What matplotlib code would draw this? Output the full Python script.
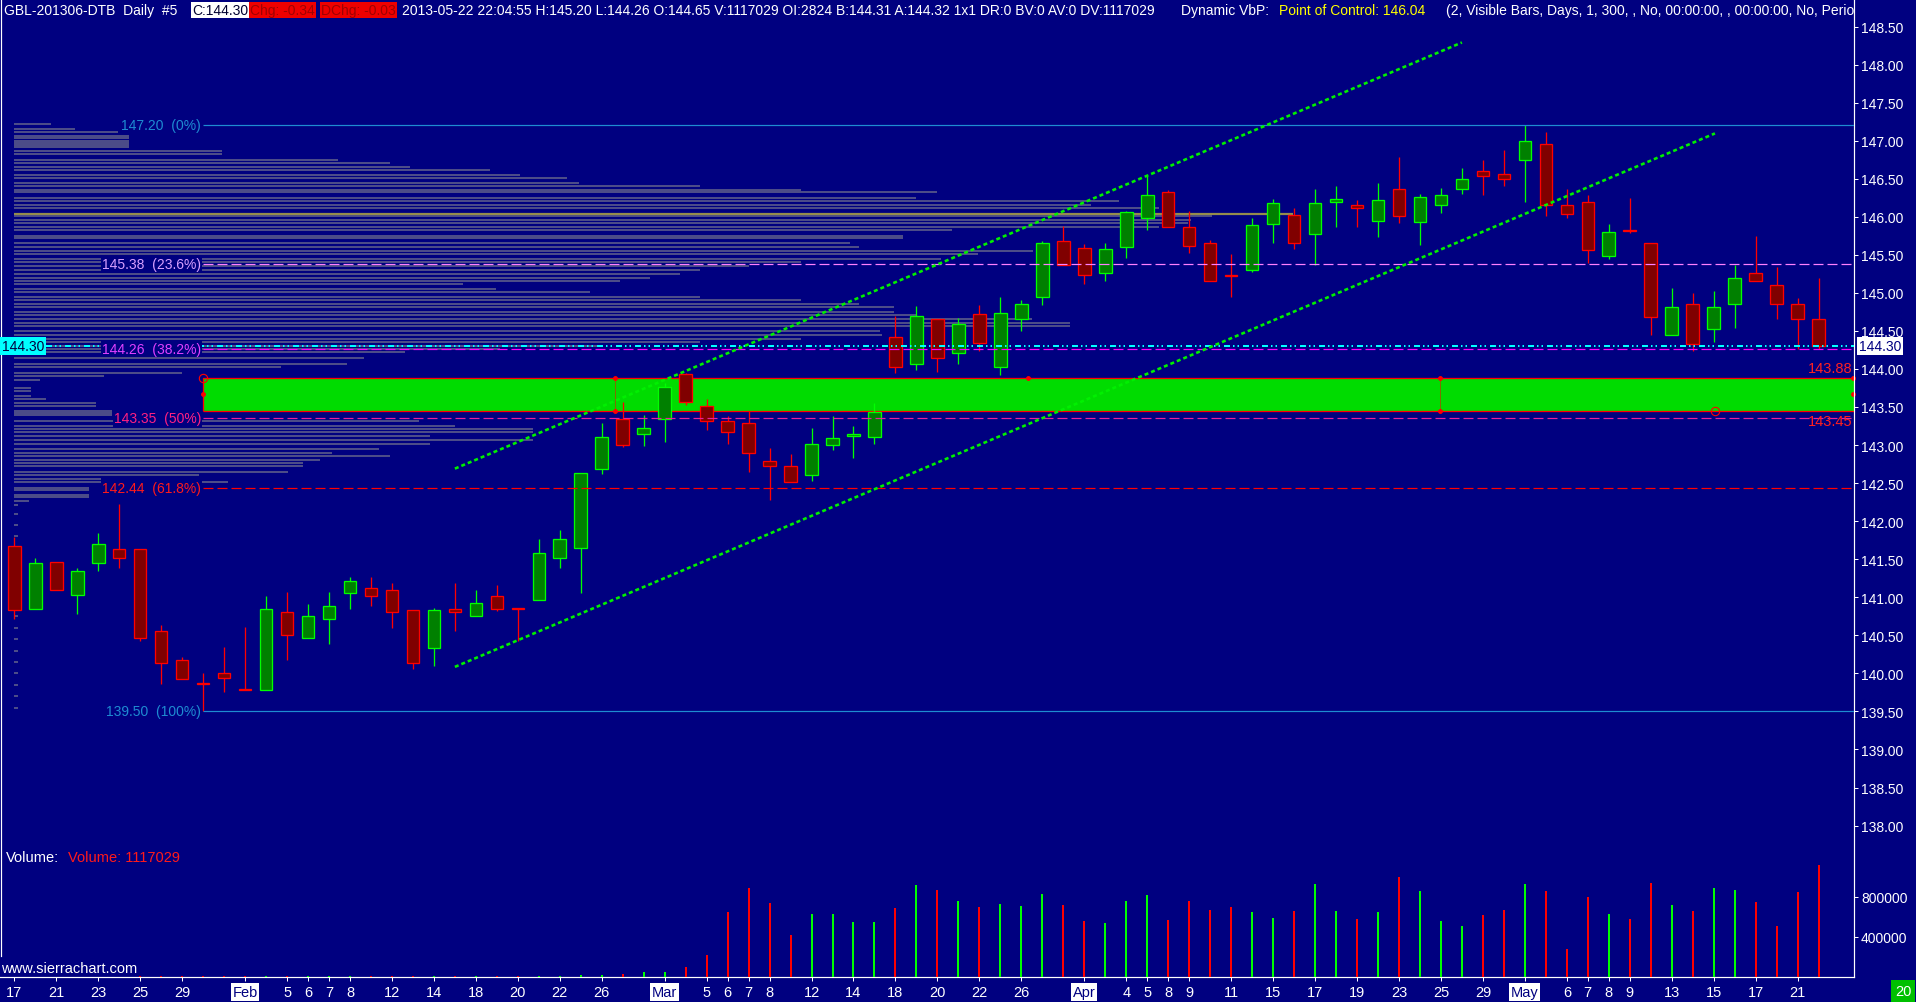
import numpy as np
import matplotlib
matplotlib.use("Agg")
import matplotlib.pyplot as plt
from matplotlib.lines import Line2D
from matplotlib.patches import Rectangle

plt.rcParams['font.family'] = ['Liberation Sans', 'DejaVu Sans']
plt.rcParams['lines.scale_dashes'] = False

# ---------------- data ----------------
opens = [141.68, 140.85, 141.46, 141.03, 141.45, 141.64, 141.63, 140.55, 140.17, 139.87,
         140.01, 139.80, 139.78, 140.80, 140.46, 140.71, 141.05, 141.12, 141.09, 140.83,
         140.33, 140.85, 140.75, 141.01, 140.86, 140.96, 141.51, 141.65, 142.68, 143.34,
         143.14, 143.34, 143.94, 143.51, 143.31, 143.29, 142.79, 142.72, 142.60, 143.00,
         143.12, 143.10, 144.42, 144.06, 144.65, 144.21, 144.72, 144.02, 144.65, 144.94,
         145.68, 145.59, 145.26, 145.60, 145.98, 146.32, 145.87, 145.65, 145.24, 145.30,
         145.90, 146.02, 145.77, 146.20, 146.15, 145.95, 146.36, 145.93, 146.16, 146.37,
         146.60, 146.56, 146.74, 146.95, 146.15, 146.19, 145.48, 145.82, 145.65, 144.44,
         144.85, 144.53, 144.85, 145.26, 145.10, 144.86, 144.65]
highs = [141.79, 141.52, 141.46, 141.39, 141.84, 142.23, 141.63, 140.64, 140.22, 140.00,
         140.35, 140.61, 141.02, 141.07, 140.91, 141.07, 141.26, 141.27, 141.19, 140.83,
         140.86, 141.19, 141.10, 141.16, 140.86, 141.77, 141.88, 142.63, 143.29, 143.56,
         143.40, 143.82, 143.95, 143.60, 143.38, 143.45, 142.96, 142.88, 143.22, 143.38,
         143.25, 143.55, 144.70, 144.83, 144.65, 144.67, 144.84, 144.95, 144.91, 145.68,
         145.88, 145.64, 145.66, 146.08, 146.53, 146.35, 146.07, 145.69, 145.51, 145.98,
         146.23, 146.11, 146.36, 146.40, 146.22, 146.44, 146.79, 146.30, 146.38, 146.64,
         146.75, 146.88, 147.20, 147.11, 146.36, 146.29, 145.90, 146.25, 145.66, 145.07,
         145.00, 145.02, 145.37, 145.75, 145.34, 144.93, 145.20]
lows = [140.71, 140.85, 141.09, 140.78, 141.34, 141.38, 140.42, 139.86, 139.92, 139.50,
        139.76, 139.78, 139.78, 140.18, 140.46, 140.39, 140.85, 140.88, 140.60, 140.06,
        140.10, 140.55, 140.75, 140.82, 140.43, 140.96, 141.39, 141.05, 142.62, 142.98,
        142.99, 143.04, 143.53, 143.20, 143.01, 142.65, 142.28, 142.51, 142.53, 142.94,
        142.83, 143.01, 143.95, 143.99, 143.96, 144.06, 144.23, 143.92, 144.50, 144.84,
        145.36, 145.12, 145.15, 145.46, 145.83, 145.86, 145.53, 145.15, 144.95, 145.28,
        145.65, 145.57, 145.37, 145.87, 145.87, 145.74, 145.92, 145.63, 146.05, 146.30,
        146.29, 146.41, 146.19, 146.01, 145.99, 145.39, 145.44, 145.78, 144.45, 144.44,
        144.24, 144.35, 144.54, 145.15, 144.66, 144.26, 144.26]
closes = [140.83, 141.45, 141.09, 141.34, 141.70, 141.52, 140.46, 140.13, 139.92, 139.86,
          139.94, 139.78, 140.84, 140.50, 140.75, 140.89, 141.22, 141.01, 140.80, 140.13,
          140.83, 140.80, 140.92, 140.84, 140.84, 141.58, 141.76, 142.63, 143.10, 143.00,
          143.22, 143.76, 143.56, 143.32, 143.17, 142.89, 142.72, 142.51, 143.02, 143.09,
          143.14, 143.44, 144.02, 144.69, 144.14, 144.59, 144.34, 144.73, 144.85, 145.65,
          145.36, 145.24, 145.57, 146.06, 146.29, 145.86, 145.62, 145.15, 145.22, 145.89,
          146.18, 145.65, 146.18, 146.23, 146.12, 146.22, 146.01, 146.26, 146.28, 146.50,
          146.53, 146.49, 146.99, 146.15, 146.04, 145.56, 145.80, 145.81, 144.68, 144.82,
          144.33, 144.81, 145.20, 145.15, 144.85, 144.65, 144.30]
volumes = [2000, 2000, 2000, 2000, 2000, 2000, 10000, 10000, 10000, 10000,
           10000, 10000, 10000, 10000, 10000, 10000, 10000, 10000, 10000, 10000,
           10000, 10000, 10000, 10000, 10000, 10000, 10000, 20000, 20000, 30000,
           50000, 50000, 100000, 220000, 650000, 890000, 740000, 420000, 630000, 630000,
           550000, 550000, 690000, 920000, 870000, 760000, 697000, 727000, 707000, 827000,
           717000, 557000, 537000, 757000, 817000, 567000, 757000, 667000, 697000, 647000,
           587000, 657000, 927000, 657000, 577000, 647000, 997000, 857000, 557000, 507000,
           617000, 667000, 927000, 857000, 277000, 797000, 627000, 577000, 937000, 717000,
           657000, 887000, 867000, 747000, 507000, 847000, 1117029]

tick_idx = [0, 2, 4, 6, 8, 11, 13, 14, 15, 16, 18, 20, 22, 24, 26, 28, 31, 33, 34, 35,
            36, 38, 40, 42, 44, 46, 48, 51, 53, 54, 55, 56, 58, 60, 62, 64, 66, 68, 70,
            72, 74, 75, 76, 77, 79, 81, 83, 85]
tick_text = ['17', '21', '23', '25', '29', 'Feb', '5', '6', '7', '8', '12', '14', '18',
             '20', '22', '26', 'Mar', '5', '6', '7', '8', '12', '14', '18', '20', '22',
             '26', 'Apr', '4', '5', '8', '9', '11', '15', '17', '19', '23', '25', '29',
             'May', '6', '7', '8', '9', '13', '15', '17', '21']
months = ['Feb', 'Mar', 'Apr', 'May']

price_ticks = [138.0, 138.5, 139.0, 139.5, 140.0, 140.5, 141.0, 141.5, 142.0, 142.5,
               143.0, 143.5, 144.0, 144.5, 145.0, 145.5, 146.0, 146.5, 147.0, 147.5,
               148.0, 148.5]
vol_ticks = [400000, 800000]

# volume-by-price profile (relative volume, point of control = 100)
prof_price = [147.22, 147.15, 147.11, 147.06, 147.03, 147.00, 146.97, 146.94, 146.91,
              146.86, 146.82, 146.75, 146.71, 146.65, 146.61, 146.55, 146.51, 146.45,
              146.40, 146.35, 146.32, 146.25, 146.21, 146.15, 146.11, 146.01,
              145.96, 145.92, 145.86, 145.82, 145.75, 145.72, 145.65, 145.60, 145.55,
              145.51, 145.45, 145.40, 145.35, 145.30, 145.25, 145.20, 145.15, 145.11,
              145.05, 145.01, 144.95, 144.90, 144.85, 144.81, 144.75, 144.71, 144.65,
              144.61, 144.56, 144.50, 144.45, 144.40, 144.35, 144.30, 144.26, 144.22,
              144.15, 144.06, 144.02, 143.95, 143.91, 143.85, 143.75, 143.71, 143.65,
              143.61, 143.55, 143.51, 143.45, 143.42, 143.39, 143.32, 143.25, 143.21,
              143.17, 143.12, 143.06, 143.01, 142.95, 142.90, 142.86, 142.81, 142.76,
              142.73, 142.65, 142.60, 142.55, 142.51, 142.44, 142.41, 142.35, 142.32,
              142.26, 142.21, 142.10, 141.95, 141.80, 141.65, 141.50, 141.35, 141.20,
              141.05, 140.90, 140.75, 140.60, 140.45, 140.30, 140.15, 140.00, 139.85,
              139.70, 139.55]
prof_vol = [2.9, 4.8, 8.1, 9.0, 9.0, 9.0, 9.0, 9.0, 9.0,
            16.3, 16.3, 25.3, 29.4, 31.0, 37.2, 39.6, 43.2, 44.2,
            53.6, 61.5, 72.2, 70.5, 86.4, 84.2, 89.5, 93.7,
            92.0, 91.8, 89.5, 73.3, 69.5, 69.5, 65.4, 66.1, 79.7,
            75.4, 72.5, 61.5, 57.5, 53.6, 52.1, 49.7, 47.4, 35.1,
            37.7, 45.0, 53.6, 61.5, 66.1, 68.8, 68.8, 70.6, 79.6,
            82.6, 82.6, 67.7, 67.9, 61.5, 53.6, 45.8, 38.0, 30.6,
            27.4, 26.0, 20.9, 13.1, 7.0, 2.0, 1.3, 1.3, 1.3,
            2.5, 6.4, 6.4, 7.7, 7.7, 7.7, 31.7, 34.5, 40.6,
            40.6, 32.5, 40.6, 32.5, 28.5, 24.9, 29.4, 23.9, 22.6,
            22.6, 21.4, 14.5, 6.8, 16.7, 5.9, 5.9, 5.9, 5.9,
            1.2, 0.3, 0.3, 0.3, 0.3, 0.3, 0.3, 0.3, 0.3,
            0.3, 0.3, 0.3, 0.3, 0.3, 0.3, 0.3, 0.3, 0.3,
            0.3, 0.3]
poc_price = 146.04

fib_levels = [147.20, 145.38, 144.26, 143.35, 142.44, 139.50]
fib_pcts = ['0%', '23.6%', '38.2%', '50%', '61.8%', '100%']
fib_anchor = 9
zone_lo, zone_hi = 143.45, 143.88
last_price = 144.30
chan_upper = ([21, 69], [142.69, 148.29])
chan_lower = ([21, 81.06], [140.085, 147.095])
zone_marks_x = [28.63, 67.96]

# ---------------- layout (pixels) ----------------
W, H = 1916, 1003
NAVY = '#000080'
AXR, AXB = 1854, 978          # plot right edge / volume baseline
PPX = 76.1                    # pixels per price point
PY0 = 27.5                    # pixel row of 148.50
BX0, BDX = 14.3, 20.98        # first bar center / bar spacing in px
VPX = 10000                   # volume per pixel
PT = 0.72                     # points per pixel

fig = plt.figure(figsize=(W / 100, H / 100), dpi=100, facecolor=NAVY)
ax = fig.add_axes([0, 1 - AXB / H, AXR / W, AXB / H])
ax.set_facecolor(NAVY)
xmin = -BX0 / BDX
xmax = (AXR - BX0) / BDX
ax.set_xlim(xmin, xmax)
ax.set_ylim(148.5 - (AXB - PY0) / PPX, 148.5 + PY0 / PPX)

ax2 = fig.add_axes([0, 1 - AXB / H, AXR / W, AXB / H])
ax2.patch.set_alpha(0)
ax2.set_xlim(xmin, xmax)
ax2.set_ylim(0, AXB * VPX)

for a in (ax, ax2):
    for s in a.spines.values():
        s.set_visible(False)
ax.spines['right'].set_visible(True)
ax.spines['right'].set_color('white')
ax.spines['right'].set_linewidth(1.2 * PT)
ax.spines['bottom'].set_visible(True)
ax.spines['bottom'].set_color('white')
ax.spines['bottom'].set_linewidth(1.2 * PT)

# price axis
ax.yaxis.tick_right()
ax.set_yticks(price_ticks)
ax.set_yticklabels([f"{p:.2f}" for p in price_ticks])
ax.tick_params(axis='y', colors='white', length=4 * PT, width=1 * PT, pad=3 * PT,
               labelsize=10)
ax.set_xticks(tick_idx)
ax.set_xticklabels(tick_text)
ax.tick_params(axis='x', colors='white', length=4 * PT, width=1 * PT, pad=4 * PT,
               labelsize=10.5)
for lab in ax.get_xticklabels():
    if lab.get_text() in months:
        lab.set_color(NAVY)
        lab.set_bbox(dict(boxstyle='square,pad=0.12', fc='white', ec='none'))

ax2.set_xticks([])
ax2.yaxis.tick_right()
ax2.set_yticks(vol_ticks)
ax2.set_yticklabels([str(v) for v in vol_ticks])
ax2.tick_params(axis='y', colors='white', length=4 * PT, width=1 * PT, pad=3 * PT,
                labelsize=10)

# ---------------- volume profile ----------------
PROF_C = '#4c4c88'
x_prof0 = (14 - BX0) / BDX
prof_len = np.array(prof_vol) / 100.0 * 1279 / BDX
ax.hlines(prof_price, x_prof0, x_prof0 + prof_len, colors=PROF_C, lw=2.0 * PT, zorder=1)
ax.hlines([poc_price], x_prof0, x_prof0 + 100 / 100.0 * 1279 / BDX, colors='#948c4c',
          lw=2.2 * PT, zorder=1.1)

# ---------------- zone ----------------
ax.add_patch(Rectangle((fib_anchor, zone_lo), xmax - fib_anchor, zone_hi - zone_lo,
                       fc='#00dc00', ec='none', zorder=2))
ax.hlines([zone_lo, zone_hi], fib_anchor, xmax, colors='#ff0000', lw=1.3 * PT, zorder=2.1)
ax.vlines([fib_anchor], zone_lo, zone_hi, colors='#ff0000', lw=1.3 * PT, zorder=2.1)
ax.vlines(zone_marks_x, zone_lo, zone_hi, colors='#ff0000', lw=1 * PT,
          linestyles=(0, (1 * PT, 1 * PT)), zorder=2.2)
ax.plot(zone_marks_x * 2, [zone_lo] * 2 + [zone_hi] * 2, 'o', color='#ff0000', ms=2.5,
        zorder=2.2, ls='none')
ax.plot([fib_anchor], [zone_hi], 'o', mfc='none', mec='#ff0000', ms=6, mew=0.8, zorder=2.3)
ax.plot([fib_anchor], [(zone_lo + zone_hi) / 2], 'o', color='#ff0000', ms=2.5, zorder=2.3)
ax.plot([81.06], [zone_lo], 'o', mfc='none', mec='#ff0000', ms=6, mew=0.8, zorder=2.3)
ax.plot([48.3], [zone_hi], 'o', color='#ff0000', ms=2.5, zorder=2.3)
ax.plot([xmax - 0.05, xmax - 0.05], [zone_hi, (zone_lo + zone_hi) / 2], 'o',
        color='#ff0000', ms=2.5, zorder=2.3, clip_on=False)

# ---------------- candles ----------------
o = np.array(opens); c = np.array(closes); h = np.array(highs); l = np.array(lows)
idx = np.arange(len(o))
up = c > o
edge = np.where(up, '#00ff00', '#ff0000')
fill = np.where(up, '#008000', '#800000')
ax.vlines(idx, l, h, colors=edge, lw=1.3 * PT, zorder=3)
ax.bar(idx, np.maximum(np.abs(c - o), 0.004), bottom=np.minimum(o, c), width=0.6,
       color=fill, edgecolor=edge, linewidth=1.3 * PT, zorder=4)

# ---------------- volume ----------------
vcol = np.where(up, '#00ff00', '#ff0000')
ax2.vlines(idx, 0, volumes, colors=vcol, lw=2 * PT, zorder=3)

# ---------------- fibonacci levels ----------------
fib_line_c = ['#1e8cd2', '#ff80ff', '#ff00ff', '#e8209c', '#ff0000', '#1e8cd2']
fib_text_c = ['#1e8cd2', '#d8a0ff', '#e040ff', '#ff2080', '#ff1a1a', '#1e8cd2']
fib_dashed = [False, True, True, True, True, False]
for lvl, pct, lc, tc, dsh in zip(fib_levels, fib_pcts, fib_line_c, fib_text_c, fib_dashed):
    ls = (0, (10 * PT, 4 * PT)) if dsh else '-'
    ax.hlines([lvl], fib_anchor, xmax, colors=lc, lw=1.2 * PT, linestyles=[ls], zorder=5)
    ax.text(fib_anchor - 2 / BDX, lvl, f"{lvl:.2f}  ({pct})", color=tc, fontsize=10,
            ha='right', va='center', zorder=6,
            bbox=dict(boxstyle='square,pad=0.08', fc=NAVY, ec='none'))

# last price line
ax.hlines([last_price], (46 - BX0) / BDX, xmax, colors='#00ffff', lw=2 * PT,
          linestyles=[(0, (6 * PT, 3 * PT, 1.5 * PT, 3 * PT, 1.5 * PT, 4 * PT))], zorder=5)

# channel
for xs, ys in (chan_upper, chan_lower):
    ax.plot(xs, ys, color='#00f000', lw=2.6 * PT, ls=(0, (4 * PT, 3 * PT)), zorder=5.5,
            solid_capstyle='butt', dash_capstyle='butt')

# zone price labels (right)
ax.annotate(f"{zone_hi:.2f}", (xmax, zone_hi), xytext=(-1 * PT, 10 * PT),
            textcoords='offset points', ha='right', va='center', color='#ff2020',
            fontsize=10.5, zorder=6)
ax.annotate(f"{zone_lo:.2f}", (xmax, zone_lo), xytext=(-1 * PT, -10.5 * PT),
            textcoords='offset points', ha='right', va='center', color='#ff2020',
            fontsize=10.5, zorder=6)


def F(x, y):
    return x / W, 1 - y / H


# left border line
fig.add_artist(Line2D([1.2 / W, 1.2 / W], [1 - 957 / H, 1], color='white', lw=1.2 * PT))

# header
hdr_y = 11
header = [
    (4, "GBL-201306-DTB  Daily  #5", 'white', None),
    (192, "C:144.30", '#000030', 'white'),
    (250, "Chg: -0.34", '#a00000', '#ee0000'),
    (321, "DChg: -0.03", '#a00000', '#ee0000'),
    (402, "2013-05-22 22:04:55 H:145.20 L:144.26 O:144.65 V:1117029 OI:2824 B:144.31 "
          "A:144.32 1x1 DR:0 BV:0 AV:0 DV:1117029", 'white', None),
    (1181, "Dynamic VbP:", 'white', None),
    (1279, "Point of Control: 146.04", '#ffff00', None),
    (1446, "(2, Visible Bars, Days, 1, 300, , No, 00:00:00, , 00:00:00, No, Period Start)",
     'white', None),
]
for x, s, col, bg in header:
    kw = {}
    if bg:
        kw['bbox'] = dict(boxstyle='square,pad=0.08', fc=bg, ec='none')
    ax.text(*F(x, hdr_y), s, transform=fig.transFigure, color=col, fontsize=10,
            ha='left', va='center', clip_on=True, zorder=10, **kw)

# left last-price label
fig.text(*F(2, 347), "144.30", color='#000040', fontsize=10, ha='left', va='center',
         bbox=dict(boxstyle='square,pad=0.12', fc='#00ffff', ec='none'), zorder=10)
# right last-price label
fig.text(*F(1859, 347), "144.30", color=NAVY, fontsize=10, ha='left', va='center',
         bbox=dict(boxstyle='square,pad=0.12', fc='white', ec='none'), zorder=10)

# volume texts
fig.text(*F(6, 858), "Volume:", color='white', fontsize=10.5, ha='left', va='center')
fig.text(*F(68, 858), "Volume: 1117029", color='#ff1a1a', fontsize=10.5, ha='left',
         va='center')
fig.text(*F(1, 969), "www.sierrachart.com", color='white', fontsize=10.5, ha='left',
         va='center')
fig.text(*F(1903, 992), "20", color='white', fontsize=10.5, ha='center', va='center',
         bbox=dict(boxstyle='square,pad=0.25', fc='#00c000', ec='none'))

fig.savefig('out.png', dpi=100, facecolor=NAVY)
